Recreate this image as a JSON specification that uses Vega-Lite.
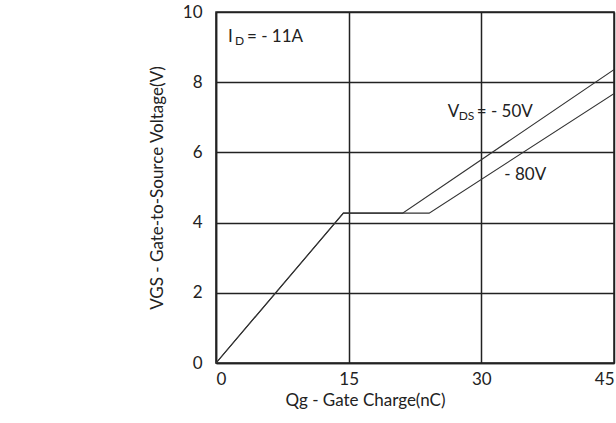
{
  "$schema": "https://vega.github.io/schema/vega-lite/v6.json",
  "width": 398,
  "height": 351,
  "autosize": {"type": "none"},
  "padding": {"left": 216, "top": 12, "right": 2, "bottom": 60},
  "background": "white",
  "config": {
    "font": "Lato",
    "view": {"stroke": "#222", "strokeWidth": 1.5},
    "axis": {
      "grid": true,
      "gridColor": "#222",
      "gridWidth": 1.5,
      "gridOpacity": 1,
      "domainColor": "#222",
      "domainWidth": 1.5,
      "ticks": false,
      "labelFont": "Lato",
      "labelFontSize": 17,
      "labelColor": "#222",
      "titleFont": "Lato",
      "titleFontSize": 17,
      "titleFontWeight": "normal",
      "titleColor": "#222"
    }
  },
  "datasets": {
    "curves": [
      {"vds": "-50V", "i": 0, "q": 0, "v": 0},
      {"vds": "-50V", "i": 1, "q": 14.4, "v": 4.27},
      {"vds": "-50V", "i": 2, "q": 21.1, "v": 4.27},
      {"vds": "-50V", "i": 3, "q": 54.6, "v": 10},
      {"vds": "-80V", "i": 0, "q": 0, "v": 0},
      {"vds": "-80V", "i": 1, "q": 14.4, "v": 4.27},
      {"vds": "-80V", "i": 2, "q": 24.1, "v": 4.27},
      {"vds": "-80V", "i": 3, "q": 59.3, "v": 10}
    ],
    "notes": [
      {"id": "id", "q": 1.35, "v": 9.29},
      {"id": "vds", "q": 26.2, "v": 7.15},
      {"id": "v80", "q": 32.6, "v": 5.36}
    ]
  },
  "encoding": {
    "x": {
      "field": "q",
      "type": "quantitative",
      "scale": {"domain": [0, 45], "nice": false},
      "axis": {
        "values": [0, 15, 30, 45],
        "labelPadding": 8,
        "labelDx": -18,
        "title": "Qg - Gate Charge(nC)",
        "titlePadding": 5,
        "titleX": 149
      }
    },
    "y": {
      "field": "v",
      "type": "quantitative",
      "scale": {"domain": [0, 10], "nice": false},
      "axis": {
        "values": [0, 2, 4, 6, 8, 10],
        "labelPadding": 14,
        "title": "VGS - Gate-to-Source Voltage(V)",
        "titlePadding": 16
      }
    }
  },
  "layer": [
    {
      "data": {"name": "curves"},
      "mark": {"type": "line", "color": "#333", "strokeWidth": 1.1, "clip": true},
      "encoding": {
        "detail": {"field": "vds"},
        "order": {"field": "i", "type": "quantitative"}
      }
    },
    {
      "data": {"name": "notes"},
      "transform": [{"filter": "datum.id == 'id'"}],
      "layer": [
        {"mark": {"type": "text", "text": "I", "align": "left", "baseline": "middle", "fontSize": 17, "color": "#222"}},
        {"mark": {"type": "text", "text": "D", "align": "left", "baseline": "middle", "fontSize": 12, "dx": 7, "dy": 4, "color": "#222"}},
        {"mark": {"type": "text", "text": "= - 11A", "align": "left", "baseline": "middle", "fontSize": 17, "dx": 19, "color": "#222"}}
      ]
    },
    {
      "data": {"name": "notes"},
      "transform": [{"filter": "datum.id == 'vds'"}],
      "layer": [
        {"mark": {"type": "text", "text": "V", "align": "left", "baseline": "middle", "fontSize": 17, "color": "#222"}},
        {"mark": {"type": "text", "text": "DS", "align": "left", "baseline": "middle", "fontSize": 12, "dx": 11, "dy": 4, "color": "#222"}},
        {"mark": {"type": "text", "text": "= - 50V", "align": "left", "baseline": "middle", "fontSize": 17, "dx": 29, "color": "#222"}}
      ]
    },
    {
      "data": {"name": "notes"},
      "transform": [{"filter": "datum.id == 'v80'"}],
      "mark": {"type": "text", "text": "- 80V", "align": "left", "baseline": "middle", "fontSize": 17, "color": "#222"}
    }
  ]
}
